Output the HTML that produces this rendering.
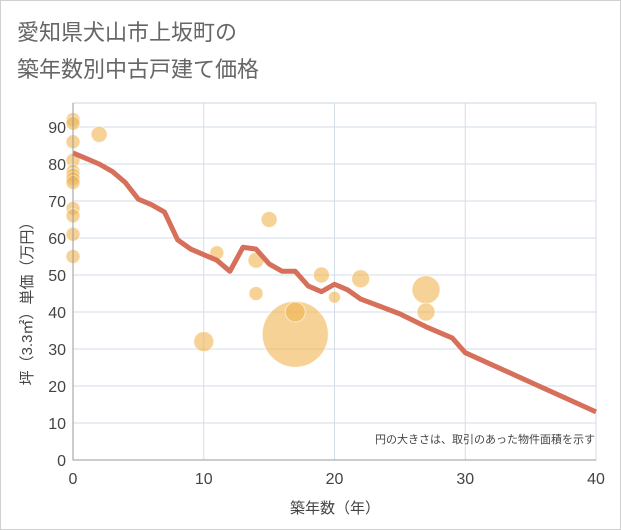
<!DOCTYPE html>
<html><head><meta charset="utf-8"><style>
body{margin:0;background:#fff;font-family:"Liberation Sans","Noto Sans CJK JP",sans-serif}
#wrap{position:relative;width:619px;height:528px;border:1px solid #d0d0d0;background:#fff}
</style></head><body>
<div id="wrap">
<svg id="c" width="621" height="530" style="position:absolute;left:-1px;top:-1px">
<text x="17" y="40" font-size="22" fill="#666" font-family="Liberation Sans, Noto Sans CJK JP, sans-serif">愛知県犬山市上坂町の</text>
<text x="17" y="77" font-size="22" fill="#666" font-family="Liberation Sans, Noto Sans CJK JP, sans-serif">築年数別中古戸建て価格</text>
<g id="grid"></g><g id="bub"></g><g id="ln"></g><g id="ax"></g>
<text x="595" y="443" font-size="11" fill="#444" text-anchor="end" font-family="Liberation Sans, Noto Sans CJK JP, sans-serif">円の大きさは、取引のあった物件面積を示す</text>
<text x="335" y="513" font-size="15" fill="#444" text-anchor="middle" font-family="Liberation Sans, Noto Sans CJK JP, sans-serif">築年数（年）</text>
<text transform="translate(32,300) rotate(-90)" font-size="15" fill="#444" text-anchor="middle" font-family="Liberation Sans, Noto Sans CJK JP, sans-serif">坪（3.3㎡）単価（万円）</text>
</svg></div>
<script>
const xTicks=[0,10,20,30,40];
const yTicks=[0,10,20,30,40,50,60,70,80,90];
const lineYears=[0,1,2,3,4,5,6,7,8,9,10,11,12,13,14,15,16,17,18,19,20,21,22,25,27,29,30,40];
const linePrices=[83,81.5,80,78,75,70.5,69,67,59.5,57,55.5,54,51,57.5,57,53,51,51,47,45.5,47.5,46,43.5,39.5,36,33,29,13];
const bubbleYears=[0,0,0,0,0,0,0,0,0,0,0,0,2,10,11,14,14,15,17,17,19,20,22,27,27];
const bubblePrices=[92,91,86,81,78,77,76,75,68,66,61,55,88,32,56,54,45,65,34,40,50,44,49,46,40];
const bubbleSizes=[7,7,7,7,7,7,7,7,7,7,7,7,8,10,7,8,7,8,33,10,8,6,9,14,9];
const X0=73,X1=596,Y0=460,YT=127;
const sx=v=>X0+(X1-X0)*v/40, sy=v=>Y0-(Y0-YT)*v/90;
const NS='http://www.w3.org/2000/svg';
function mk(t,a,p){const e=document.createElementNS(NS,t);for(const k in a)e.setAttribute(k,a[k]);p.appendChild(e);return e;}
const g=document.getElementById('grid'),ax=document.getElementById('ax');
mk('rect',{x:X0,y:103,width:X1-X0,height:Y0-103,fill:'none',stroke:'#c8d4e0'},g);
yTicks.forEach(v=>{const l=mk('line',{x1:X0,x2:X1,y1:sy(v),y2:sy(v),stroke:'#d3dde8'},g);


const t=mk('text',{x:X0-7,y:sy(v)+6,'font-size':16,fill:'#444','text-anchor':'end'},ax);t.textContent=v;

});
xTicks.forEach(v=>{const l=mk('line',{x1:sx(v),x2:sx(v),y1:103,y2:Y0,stroke:'#d3dde8'},g);


const t=mk('text',{x:sx(v),y:Y0+24,'font-size':16,fill:'#444','text-anchor':'middle'},ax);t.textContent=v;

});
mk('line',{x1:X0,x2:X0,y1:103,y2:Y0,stroke:'#999'},ax);
mk('line',{x1:X0,x2:X1,y1:Y0,y2:Y0,stroke:'#999'},ax);
const b=document.getElementById('bub');
bubbleYears.forEach((v,i)=>{const c=mk('circle',{cx:sx(v),cy:sy(bubblePrices[i]),r:bubbleSizes[i],fill:'rgba(240,180,80,0.6)',stroke:'rgba(255,255,255,0.6)'},b);

});
const p=mk('polyline',{points:lineYears.map((v,i)=>sx(v)+','+sy(linePrices[i])).join(' '),fill:'none',stroke:'#d6705a','stroke-width':5,'stroke-linejoin':'round'},document.getElementById('ln'));


</script></body></html>
